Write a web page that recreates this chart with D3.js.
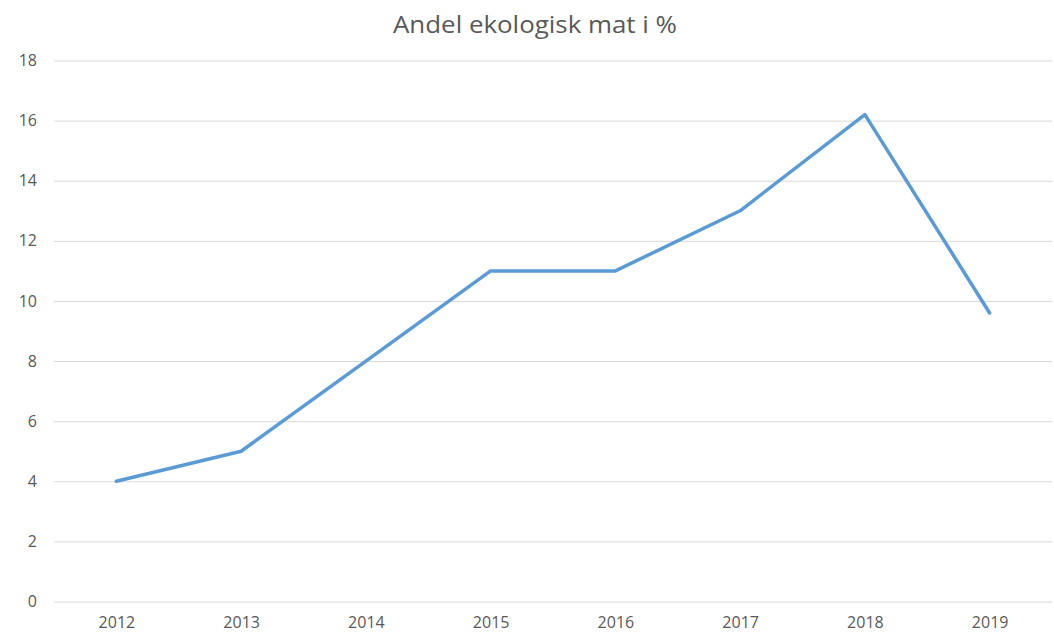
<!DOCTYPE html>
<html><head><meta charset="utf-8">
<script src="https://cdn.jsdelivr.net/npm/d3@7"></script>
<style>body{margin:0;background:#fff}</style>
</head><body>
<svg id="c" width="1054" height="639"></svg>
<script>
const years = ["2012","2013","2014","2015","2016","2017","2018","2019"];
const values = [4, 5, 8, 11, 11, 13, 16.2, 9.6];
const yTicks = [0,2,4,6,8,10,12,14,16,18];
const title = "Andel ekologisk mat i %";

(function(){
const svg = d3.select("#c");
const mLeft = 54, mRight = 1052, mTop = 60.5, mBottom = 601.5;
const x = d3.scalePoint().domain(years).range([mLeft, mRight]).padding(0.5);
const y = d3.scaleLinear().domain([0, 18]).range([mBottom, mTop]);

svg.append("text").attr("x", 393).attr("y", 33)
  .attr("font-family", "Open Sans, DejaVu Sans, sans-serif")
  .attr("font-size", 24).attr("fill", "#595959")
  .attr("textLength", 284).attr("lengthAdjust", "spacingAndGlyphs").text(title);

const yAxis = d3.axisLeft(y).tickValues(yTicks).tickSize(-(mRight - mLeft)).tickPadding(17);
const gy = svg.append("g").attr("transform", `translate(${mLeft},0)`).call(yAxis);
gy.select(".domain").remove();
gy.selectAll(".tick line").attr("stroke", "#d9d9d9").attr("stroke-width", 1);
gy.selectAll(".tick text").attr("fill", "#595959").attr("font-size", 16)
  .attr("font-family", "Open Sans, DejaVu Sans, sans-serif");

const xAxis = d3.axisBottom(x).tickSize(0).tickPadding(15);
const gx = svg.append("g").attr("transform", `translate(0,${mBottom})`).call(xAxis);
gx.select(".domain").remove();
gx.selectAll(".tick text").attr("fill", "#595959").attr("font-size", 16)
  .attr("font-family", "Open Sans, DejaVu Sans, sans-serif");

const line = d3.line().x((d, i) => x(years[i])).y(d => y(d));
svg.append("path").datum(values).attr("d", line)
  .attr("fill", "none").attr("stroke", "#5B9BD5").attr("stroke-width", 3.5)
  .attr("stroke-linejoin", "round").attr("stroke-linecap", "round");
})();
</script>
</body></html>
